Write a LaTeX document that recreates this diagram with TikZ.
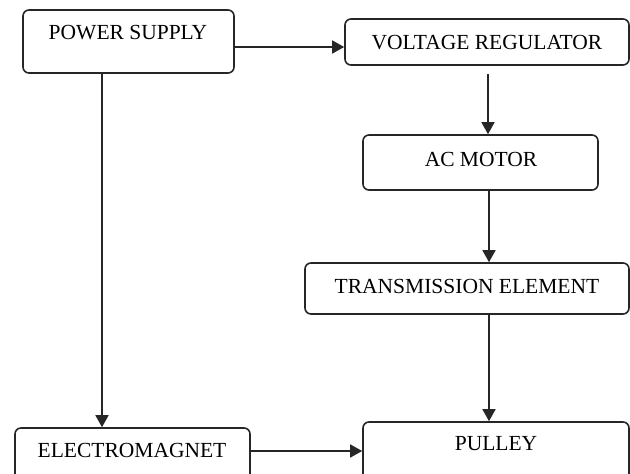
\documentclass[tikz,border=0pt]{standalone}
\usepackage{fontspec}
\setmainfont{Liberation Serif}
\usetikzlibrary{arrows.meta,calc}
\begin{document}
\begin{tikzpicture}[x=1pt,y=-1pt,
  blk/.style={draw=black!85,line width=1.6pt,rounded corners=6pt,inner sep=0pt},
  txt/.style={font=\fontsize{21.5}{24}\selectfont,inner sep=0pt,anchor=center},
  arr/.style={draw=black!85,line width=1.5pt,-{Triangle[length=12pt,width=13pt]}}]
\useasboundingbox (0,0) rectangle (630,474);
\node[blk,minimum width=211pt,minimum height=63pt] (ps) at (128.5,41.5) {};
\node[blk,minimum width=284pt,minimum height=46pt] (vr) at (487,42) {};
\node[blk,minimum width=235pt,minimum height=55pt] (ac) at (480.5,162.5) {};
\node[blk,minimum width=324pt,minimum height=51pt] (te) at (467,288.5) {};
\node[blk,minimum width=266pt,minimum height=58pt] (pu) at (496,451) {};
\node[blk,minimum width=235pt,minimum height=52pt] (em) at (132.5,454) {};
\node[txt] (pst) at (128,33) {POWER SUPPLY};
\node[txt] (vrt) at (487,43) {VOLTAGE REGULATOR};
\node[txt] (act) at (481,159) {AC MOTOR};
\node[txt] (tet) at (467,286) {TRANSMISSION ELEMENT};
\node[txt] (put) at (496,444) {PULLEY};
\node[txt] (emt) at (132,450) {ELECTROMAGNET};
\draw[arr] (ps.east |- 0,47) -- (vr.west |- 0,47);
\draw[arr,shorten <=8pt] (vr.south -| 488,0) -- (ac.north -| 488,0);
\draw[arr] (ac.south -| 489,0) -- (te.north -| 489,0);
\draw[arr] (te.south -| 489,0) -- (pu.north -| 489,0);
\draw[arr] (ps.south -| 102,0) -- (em.north -| 102,0);
\draw[arr] (em.east |- 0,451) -- (pu.west |- 0,451);
\end{tikzpicture}
\end{document}
